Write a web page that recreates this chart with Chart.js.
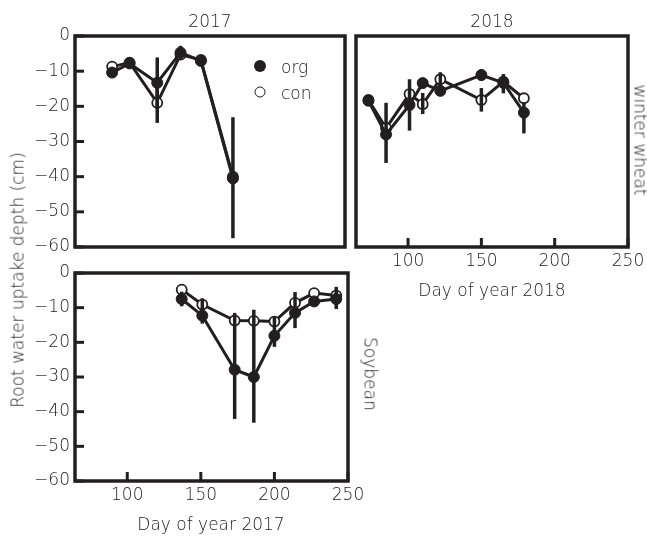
<!DOCTYPE html>
<html><head><meta charset="utf-8">
<script src="https://cdn.jsdelivr.net/npm/chart.js@4.4.1/dist/chart.umd.min.js"></script>
<style>
html,body{margin:0;padding:0;background:#fff;}
#wrap{position:relative;width:647px;height:537px;overflow:hidden;background:#fff;}
#wrap canvas{position:absolute;left:0;top:0;}
.t{position:absolute;font-family:"DejaVu Sans";font-weight:300;font-size:17px;color:#222;white-space:nowrap;line-height:1;transform:translate(-50%,-50%);}
.cw{transform:translate(-50%,-50%) rotate(90deg);}
.ccw{transform:translate(-50%,-50%) rotate(-90deg);}
.lg{position:absolute;font-family:"DejaVu Sans";font-weight:300;font-size:17px;color:#222;line-height:1;transform:translateY(-50%);}
.dot{position:absolute;border-radius:50%;box-sizing:border-box;transform:translate(-50%,-50%);}
</style></head>
<body>
<div id="wrap">
<canvas id="cA" width="647" height="537"></canvas>
<canvas id="cB" width="647" height="537"></canvas>
<canvas id="cC" width="647" height="537"></canvas>
<div class="t" style="left:210px;top:20.5px">2017</div>
<div class="t" style="left:492px;top:20.5px">2018</div>
<div class="t cw" style="left:640px;top:140px">winter wheat</div>
<div class="t cw" style="left:370px;top:374px">Soybean</div>
<div class="t ccw" style="left:18px;top:280px">Root water uptake depth (cm)</div>
<div class="t" style="left:492px;top:290px">Day of year 2018</div>
<div class="t" style="left:211px;top:524px">Day of year 2017</div>
<div class="dot" style="left:260px;top:66px;width:12px;height:12px;background:#231f20"></div>
<div class="lg" style="left:281px;top:67px">org</div>
<div class="dot" style="left:260px;top:92px;width:11px;height:11px;border:1.8px solid #231f20;background:#fff"></div>
<div class="lg" style="left:281px;top:93px">con</div>
</div>
<script>
// ---- data: 2017 winter wheat ----
const days17ww = [90, 102, 121, 137, 151, 173];
const org17ww  = [-10.4, -7.8, -13.3, -4.7, -7.1, -40.5];
const con17ww  = [-8.7, -7.6, -19.0, -5.3, -6.8, -40.0];
const orgBar17ww = [null, null, [-20.5, -6.1], [-6.6, -2.8], null, [-57.5, -23.1]];
const conBar17ww = [null, null, [-24.7, -13.3], null, null, null];
// ---- data: 2018 winter wheat ----
const days18ww = [73, 85, 101, 110, 122, 150, 165, 179];
const org18ww  = [-18.4, -28.0, -19.6, -13.4, -15.6, -11.1, -13.3, -21.8];
const con18ww  = [-18.2, -26.2, -16.5, -19.4, -12.3, -18.2, -13.0, -17.7];
const orgBar18ww = [null, [-36.1, -19.0], [-26.9, -12.3], null, null, [-12.8, -9.4], [-16.3, -10.8], [-27.7, -19.0]];
const conBar18ww = [null, null, null, [-22.2, -16.2], [-14.5, -10.3], [-21.5, -14.8], null, null];
// ---- data: 2017 soybean ----
const days17sb = [137, 151, 173, 186, 200, 214, 227, 242];
const org17sb  = [-7.5, -12.3, -27.9, -30.0, -18.1, -11.5, -8.2, -7.5];
const con17sb  = [-4.8, -9.1, -13.7, -13.8, -14.0, -8.6, -5.8, -6.5];
const orgBar17sb = [[-9.6, -5.4], [-14.6, -7.3], [-42.1, -11.5], [-43.2, -10.6], [-21.3, -12.5], [-15.9, -5.5], null, [-10.4, -4.0]];
const conBar17sb = [null, null, null, null, null, null, null, null];
// ---- axes ----
const xMin = 64.5, xMax = 250, xStep = 50;
const yMin = -60, yMax = 0, yStep = 10;

const INK = '#231f20';
const TXT = '#222';
const FONT = {family: 'DejaVu Sans', size: 17, weight: '300'};

function pts(days, vals) { return days.map((d, i) => ({x: d, y: vals[i]})); }

function decor(bars, showY, showX) {
  return {
    id: 'decor',
    afterDatasetsDraw(chart) {
      const ctx = chart.ctx, xs = chart.scales.x, ys = chart.scales.y;
      ctx.save();
      ctx.strokeStyle = INK; ctx.lineWidth = 3.5; ctx.lineCap = 'butt';
      bars.forEach(b => b.ranges.forEach((r, i) => {
        if (!r) return;
        const px = xs.getPixelForValue(b.days[i]);
        ctx.beginPath();
        ctx.moveTo(px, ys.getPixelForValue(r[0]));
        ctx.lineTo(px, ys.getPixelForValue(r[1]));
        ctx.stroke();
      }));
      ctx.restore();
    },
    afterDraw(chart) {
      const ctx = chart.ctx, a = chart.chartArea;
      ctx.save();
      ctx.strokeStyle = INK; ctx.lineWidth = 3;
      if (showY) chart.scales.y.ticks.forEach(t => {
        const py = chart.scales.y.getPixelForValue(t.value);
        ctx.beginPath(); ctx.moveTo(a.left, py); ctx.lineTo(a.left + 9, py); ctx.stroke();
      });
      if (showX) chart.scales.x.ticks.forEach(t => {
        const px = chart.scales.x.getPixelForValue(t.value);
        ctx.beginPath(); ctx.moveTo(px, a.bottom); ctx.lineTo(px, a.bottom - 9); ctx.stroke();
      });
      ctx.lineWidth = 3.5;
      ctx.strokeRect(a.left, a.top, a.right - a.left, a.bottom - a.top);
      ctx.restore();
    }
  };
}

function fixSize(w, h) {
  return function (scale) {
    if (w !== null) scale.width = w;
    if (h !== null) scale.height = h;
    scale.paddingLeft = 0; scale.paddingRight = 0;
    scale.paddingTop = 0; scale.paddingBottom = 0;
  };
}

const minus = v => (v < 0 ? '\u2212' + Math.abs(v) : String(v));

function makeChart(id, days, org, con, orgBar, conBar, pad, showY, showX) {
  new Chart(document.getElementById(id), {
    type: 'line',
    data: {
      datasets: [
        {label: 'org', data: pts(days, org), borderColor: INK, borderWidth: 3,
         pointRadius: 5.5, pointBackgroundColor: INK, pointBorderColor: INK, pointBorderWidth: 1,
         tension: 0, fill: false},
        {label: 'con', data: pts(days, con), borderColor: INK, borderWidth: 3,
         pointRadius: 5, pointBackgroundColor: '#fff', pointBorderColor: INK, pointBorderWidth: 1.8,
         tension: 0, fill: false}
      ]
    },
    options: {
      responsive: false, animation: false, devicePixelRatio: 1,
      layout: {padding: pad},
      plugins: {legend: {display: false}, tooltip: {enabled: false}},
      scales: {
        x: {type: 'linear', min: xMin, max: xMax, display: showX,
            grid: {display: false, drawTicks: false, tickLength: 0}, border: {display: false},
            ticks: {stepSize: xStep, includeBounds: false, font: FONT, color: TXT, padding: 4, maxRotation: 0, autoSkip: false},
            afterFit: showX ? fixSize(null, 30) : fixSize(null, 0)},
        y: {type: 'linear', min: yMin, max: yMax, display: showY,
            grid: {display: false, drawTicks: false, tickLength: 0}, border: {display: false},
            ticks: {stepSize: yStep, font: FONT, color: TXT, padding: 5, callback: minus, autoSkip: false},
            afterFit: showY ? fixSize(60, null) : fixSize(0, null)}
      }
    },
    plugins: [decor([{days: days, ranges: orgBar}, {days: days, ranges: conBar}], showY, showX)]
  });
}

makeChart('cA', days17ww, org17ww, con17ww, orgBar17ww, conBar17ww, {left: 15, right: 302, top: 36, bottom: 290}, true, false);
makeChart('cB', days18ww, org18ww, con18ww, orgBar18ww, conBar18ww, {left: 356, right: 19, top: 36, bottom: 260}, false, true);
makeChart('cC', days17sb, org17sb, con17sb, orgBar17sb, conBar17sb, {left: 15, right: 299, top: 273, bottom: 26}, true, true);
</script>
</body></html>
